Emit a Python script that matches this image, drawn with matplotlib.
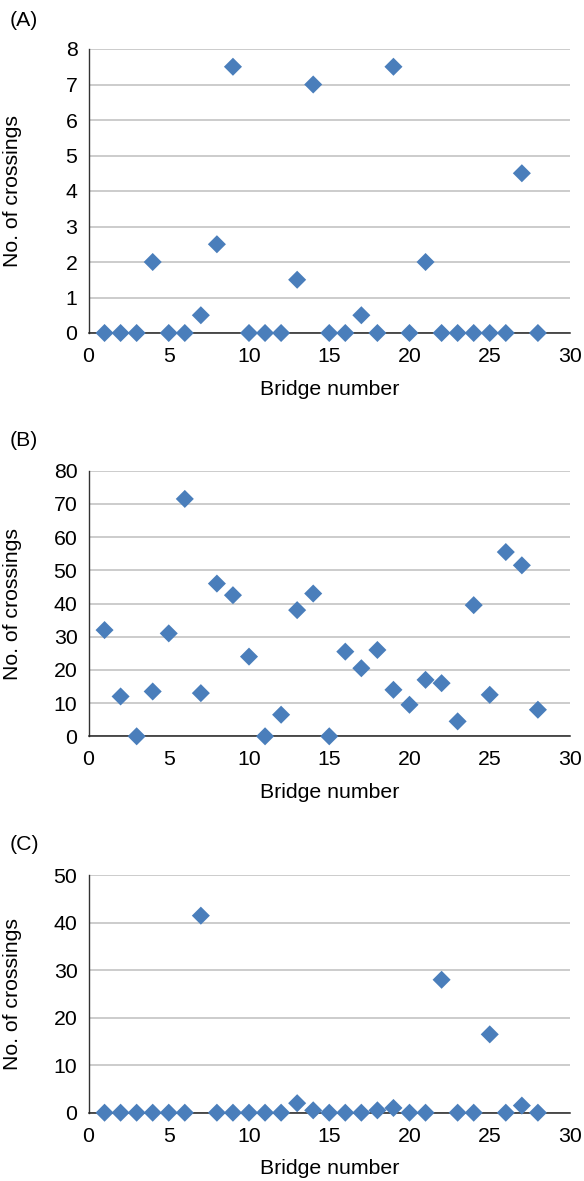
import matplotlib
matplotlib.use("Agg")
import matplotlib.pyplot as plt
from matplotlib.ticker import MultipleLocator

plt.rcParams['font.family'] = ['Liberation Sans', 'DejaVu Sans']

bridges = list(range(1, 29))

crossings_a = [0, 0, 0, 2, 0, 0, 0.5, 2.5, 7.5, 0, 0, 0, 1.5, 7, 0, 0, 0.5, 0, 7.5, 0,
               2, 0, 0, 0, 0, 0, 4.5, 0]
crossings_b = [32, 12, 0, 13.5, 31, 71.5, 13, 46, 42.5, 24, 0, 6.5, 38, 43, 0, 25.5, 20.5,
               26, 14, 9.5, 17, 16, 4.5, 39.5, 12.5, 55.5, 51.5, 8]
crossings_c = [0, 0, 0, 0, 0, 0, 41.5, 0, 0, 0, 0, 0, 2, 0.5, 0, 0, 0, 0.5, 1, 0,
               0, 28, 0, 0, 16.5, 0, 1.5, 0]

panel_labels = ["(A)", "(B)", "(C)"]
y_maxes = [8, 80, 50]
y_steps = [1, 10, 10]
x_ticks = [0, 5, 10, 15, 20, 25, 30]

W, H = 584, 1181
fig = plt.figure(figsize=(W / 100, H / 100), dpi=100)

# axes boxes in pixels: (top, bottom)
boxes = [(49, 333), (470.7, 736.3), (875.3, 1112.7)]
label_y = [20, 440, 845]
x_left, x_right = 88.5, 570

marker_color = "#4A7EBB"
fs = 15.3

for data, lab, ymax, step, (top, bot), ly in zip(
        [crossings_a, crossings_b, crossings_c], panel_labels, y_maxes, y_steps,
        boxes, label_y):
    ax = fig.add_axes([x_left / W, 1 - bot / H, (x_right - x_left) / W, (bot - top) / H])
    ax.set_xlim(0, 30)
    ax.set_ylim(0, ymax)
    ax.set_xticks(x_ticks)
    ax.yaxis.set_major_locator(MultipleLocator(step))
    ax.grid(axis="y", color="#BEBEBE", linewidth=1.1)
    ax.set_axisbelow(True)
    ax.scatter(bridges, data, marker="D", s=9.2 ** 2, color=marker_color,
               edgecolors="none", zorder=3, clip_on=False)
    for side in ("top", "right"):
        ax.spines[side].set_visible(False)
    ax.spines["left"].set_color("#333333")
    ax.spines["bottom"].set_color("#222222")
    ax.spines["left"].set_linewidth(1.0)
    ax.spines["bottom"].set_linewidth(1.1)
    ax.tick_params(axis="both", length=0, labelsize=fs, colors="black")
    ax.tick_params(axis="y", pad=8)
    ax.tick_params(axis="x", pad=10)
    ax.set_xlabel("Bridge number", fontsize=fs, labelpad=10)
    ax.set_ylabel("No. of crossings", fontsize=fs)
    ax.yaxis.set_label_coords(-0.138, 0.5)
    fig.text(10 / W, 1 - ly / H, lab, fontsize=fs, ha="left", va="center")

fig.savefig("out.png", dpi=100)
